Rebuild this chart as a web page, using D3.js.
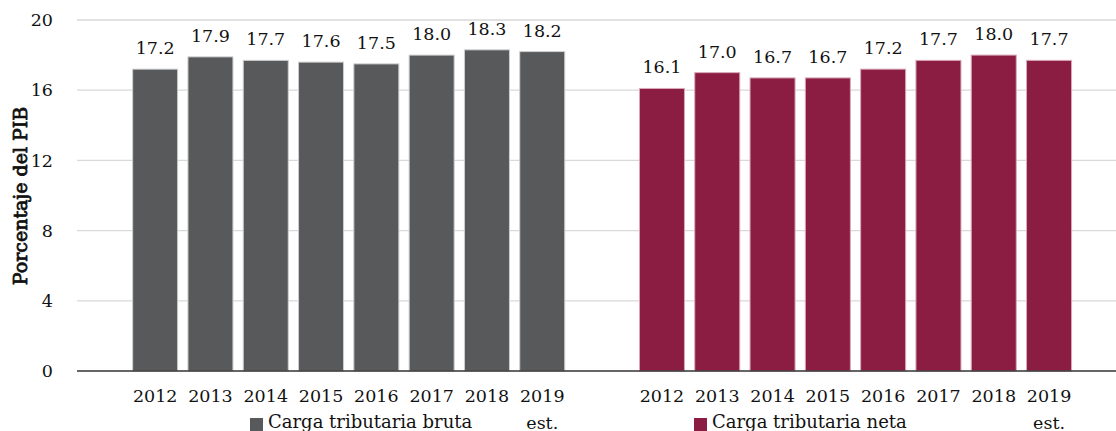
<!DOCTYPE html>
<html>
<head>
<meta charset="utf-8">
<script src="https://cdn.jsdelivr.net/npm/d3@7"></script>
<style>
  html, body { margin: 0; padding: 0; background: #fff; }
  svg { display: block; }
  text { font-family: "DejaVu Serif"; fill: #111; }
</style>
</head>
<body>
<svg id="chart" width="1116" height="431"></svg>
<script>
const years = ["2012", "2013", "2014", "2015", "2016", "2017", "2018", "2019"];
const brutaValues = [17.2, 17.9, 17.7, 17.6, 17.5, 18.0, 18.3, 18.2];
const netaValues = [16.1, 17.0, 16.7, 16.7, 17.2, 17.7, 18.0, 17.7];
const yTicks = [0, 4, 8, 12, 16, 20];
const seriesNames = ["Carga tributaria bruta", "Carga tributaria neta"];
const estLabel = "est.";
const yTitle = "Porcentaje del PIB";

const colors = ["#58595b", "#8b1c42"];
const strokes = ["#cfcfcf", "#d9a9b9"];
const FONT = '"DejaVu Serif"';

const svg = d3.select("#chart");
const plotLeft = 77, plotRight = 1116;

const y = d3.scaleLinear().domain([0, 20]).range([371, 20]);

const x1 = d3.scaleBand().domain(years).range([127.5, 569.9]).paddingInner(0.186).paddingOuter(0.093);
const x2 = d3.scaleBand().domain(years).range([634.3, 1076.7]).paddingInner(0.186).paddingOuter(0.093);

// gridlines
svg.append("g").selectAll("line").data(yTicks.filter(d => d > 0)).join("line")
  .attr("x1", plotLeft).attr("x2", plotRight)
  .attr("y1", d => y(d)).attr("y2", d => y(d))
  .attr("stroke", "#d9d9d9").attr("stroke-width", 1.3);

// y axis labels
const yAxis = d3.axisLeft(y).tickValues(yTicks).tickSize(0).tickPadding(0);
const gy = svg.append("g").attr("transform", "translate(53,0)").call(yAxis);
gy.select(".domain").remove();
gy.selectAll("text").style("font-family", FONT).style("font-size", "17.5px").attr("fill", "#111");

// y title (regular face thickened with a stroke)
svg.append("text")
  .attr("transform", "translate(27,196) rotate(-90)")
  .attr("text-anchor", "middle")
  .style("font-family", FONT)
  .style("font-size", "19px")
  .attr("stroke", "#111").attr("stroke-width", 0.8)
  .text(yTitle);

function drawGroup(xs, vals, idx) {
  const data = years.map((yr, i) => ({yr, v: vals[i]}));
  const g = svg.append("g");
  g.selectAll("rect").data(data).join("rect")
    .attr("x", d => xs(d.yr)).attr("width", xs.bandwidth())
    .attr("y", d => y(d.v)).attr("height", d => y(0) - y(d.v))
    .attr("fill", colors[idx]).attr("stroke", strokes[idx]).attr("stroke-width", 1);
  g.selectAll("text.val").data(data).join("text")
    .attr("class", "val")
    .attr("x", d => xs(d.yr) + xs.bandwidth() / 2)
    .attr("y", d => y(d.v) - 15)
    .attr("text-anchor", "middle")
    .style("font-family", FONT)
    .style("font-size", "17.5px")
    .text(d => d.v.toFixed(1));
  const ax = d3.axisBottom(xs).tickSize(0).tickPadding(0);
  const ga = svg.append("g").attr("transform", "translate(0,390)").call(ax);
  ga.select(".domain").remove();
  ga.selectAll("text").style("font-family", FONT).style("font-size", "17.5px").attr("fill", "#111").attr("dy", "0.71em");
  svg.append("text")
    .attr("x", xs("2019") + xs.bandwidth() / 2)
    .attr("y", 429)
    .attr("text-anchor", "middle")
    .style("font-family", FONT)
    .style("font-size", "17.5px")
    .text(estLabel);
}
drawGroup(x1, brutaValues, 0);
drawGroup(x2, netaValues, 1);

// axis line
svg.append("line").attr("x1", plotLeft).attr("x2", plotRight)
  .attr("y1", y(0)).attr("y2", y(0)).attr("stroke", "#333").attr("stroke-width", 1.5);

// legend
const legendX = [250, 694];
seriesNames.forEach((name, i) => {
  svg.append("rect").attr("x", legendX[i]).attr("y", 418).attr("width", 13).attr("height", 13).attr("fill", colors[i]);
  svg.append("text").attr("x", legendX[i] + 18).attr("y", 428)
    .style("font-family", FONT)
    .style("font-size", "18px").text(name);
});
</script>
</body>
</html>
